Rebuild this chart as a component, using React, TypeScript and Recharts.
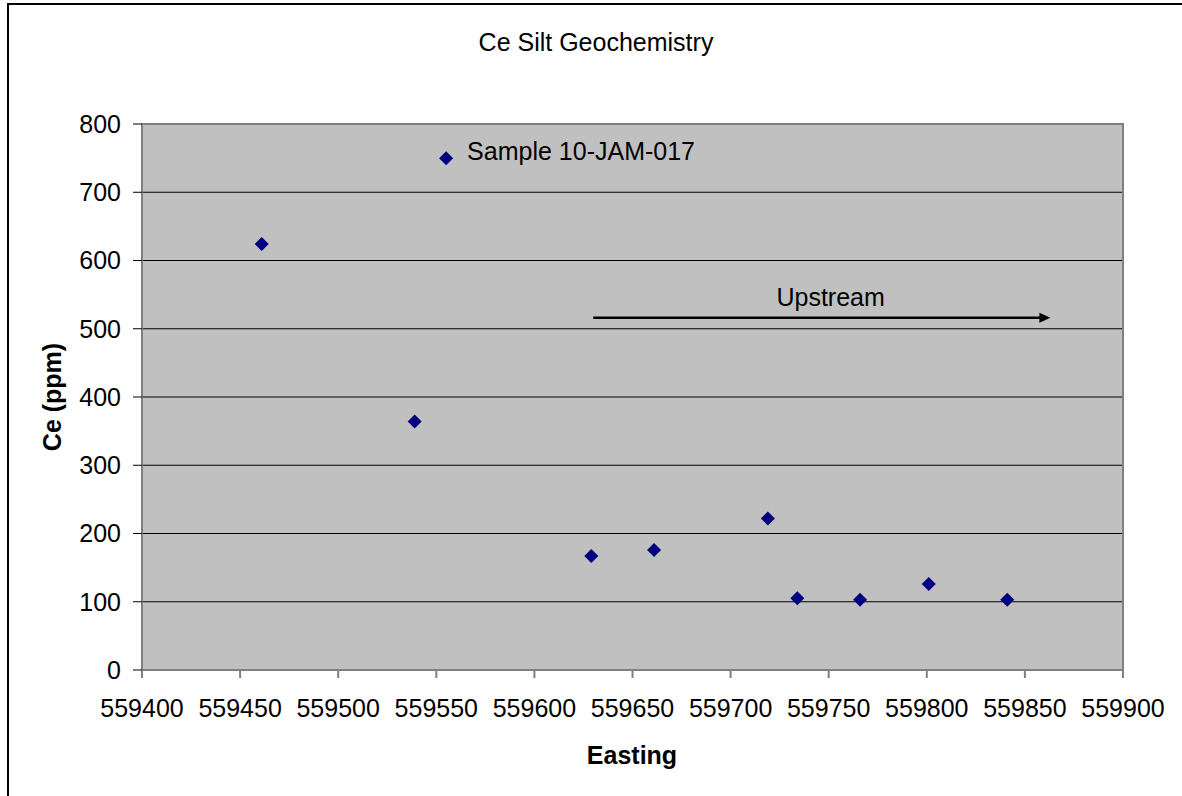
import React from "react";
import {
  ScatterChart,
  Scatter,
  XAxis,
  YAxis,
  CartesianGrid,
  ReferenceArea,
  ReferenceLine,
  ReferenceDot,
  LabelList,
} from "recharts";

// Easting / Ce values
const eastings = [559461, 559555, 559539, 559629, 559661, 559719, 559734, 559766, 559801, 559841];
const ceValues = [624, 750, 364, 167, 176, 222, 105, 103, 126, 103];
const sampleLabels = ["", "Sample 10-JAM-017", "", "", "", "", "", "", "", ""];

const xTicks = [559400, 559450, 559500, 559550, 559600, 559650, 559700, 559750, 559800, 559850, 559900];
const yTicks = [0, 100, 200, 300, 400, 500, 600, 700, 800];

// upstream arrow annotation (data coords)
const arrowFrom = { x: 559630, y: 516 };
const arrowTo = { x: 559863, y: 516 };
const arrowText = { x: 559751, y: 546, text: "Upstream" };

const data = eastings.map((e, i) => ({ x: e, y: ceValues[i], label: sampleLabels[i] }));

const FONT = "'Liberation Sans', Arial, sans-serif";

const Diamond = (p: any) => {
  const { cx, cy } = p;
  const r = 7;
  return (
    <polygon
      points={`${cx},${cy - r} ${cx + r},${cy} ${cx},${cy + r} ${cx - r},${cy}`}
      fill="#000080"
    />
  );
};

const Arrow = (p: any) => {
  const { x1, y1, x2, y2 } = p;
  return (
    <g>
      <line x1={x1} y1={y1} x2={x2 - 8} y2={y2} stroke="#000" strokeWidth={2.5} />
      <polygon points={`${x2},${y2} ${x2 - 11},${y2 - 5} ${x2 - 11},${y2 + 5}`} fill="#000" />
    </g>
  );
};

const SampleLabel = (p: any) => {
  if (!p.value) return null;
  const cx = p.x + (p.width || 0) / 2;
  const cy = p.y + (p.height || 0) / 2;
  return (
    <text x={cx + 21} y={cy + 2} fontSize={25} fontFamily={FONT} fill="#000">
      {p.value}
    </text>
  );
};

export default function App() {
  return (
    <div
      style={{
        position: "fixed",
        left: 0,
        top: 0,
        width: 1182,
        height: 796,
        overflow: "hidden",
        background: "#fff",
        fontFamily: FONT,
      }}
    >
      <div
        style={{
          position: "absolute",
          left: 7,
          top: 3,
          width: 1220,
          height: 840,
          border: "2px solid #000",
        }}
      />
      <div style={{ position: "absolute", left: 0, top: 0 }}>
        <ScatterChart
          width={1182}
          height={796}
          margin={{ top: 124, right: 59, bottom: 0, left: 0 }}
          style={{ fontFamily: FONT }}
        >
          <CartesianGrid horizontal vertical={false} stroke="#000" fill="#C0C0C0" />
          <XAxis
            type="number"
            dataKey="x"
            domain={[559400, 559900]}
            ticks={xTicks}
            interval={0}
            height={126}
            stroke="#808080"
            strokeWidth={2}
            tickSize={8}
            tickMargin={21}
            tick={{ fill: "#000", fontSize: 25 }}
            allowDataOverflow
          />
          <YAxis
            type="number"
            dataKey="y"
            domain={[0, 800]}
            ticks={yTicks}
            interval={0}
            width={142}
            stroke="#808080"
            strokeWidth={2}
            tickLine={{ stroke: "#000", strokeWidth: 1 }}
            tickSize={9}
            tickMargin={12}
            tick={{ fill: "#000", fontSize: 25 }}
            allowDataOverflow
          />
          <ReferenceArea
            x1={559400}
            x2={559900}
            y1={0}
            y2={800}
            fill="none"
            stroke="#808080"
            strokeWidth={2}
          />
          <ReferenceLine
            segment={[arrowFrom, arrowTo]}
            shape={Arrow}
            ifOverflow="visible"
          />
          <ReferenceDot
            x={arrowText.x}
            y={arrowText.y}
            r={0}
            fill="none"
            stroke="none"
            label={{ value: arrowText.text, position: "center", fontSize: 25, fill: "#000" }}
          />
          <Scatter data={data} shape={Diamond} isAnimationActive={false}>
            <LabelList dataKey="label" content={SampleLabel} />
          </Scatter>
        </ScatterChart>
      </div>
      <svg
        width={1182}
        height={796}
        style={{ position: "absolute", left: 0, top: 0, pointerEvents: "none" }}
      >
        <text x={596} y={51} textAnchor="middle" fontSize={25} fontFamily={FONT} fill="#000">
          Ce Silt Geochemistry
        </text>
        <text
          x={632}
          y={764}
          textAnchor="middle"
          fontSize={25}
          fontWeight="bold"
          fontFamily={FONT}
          fill="#000"
        >
          Easting
        </text>
        <text
          transform="translate(61,397) rotate(-90)"
          textAnchor="middle"
          fontSize={25}
          fontWeight="bold"
          fontFamily={FONT}
          fill="#000"
        >
          Ce (ppm)
        </text>
      </svg>
    </div>
  );
}
